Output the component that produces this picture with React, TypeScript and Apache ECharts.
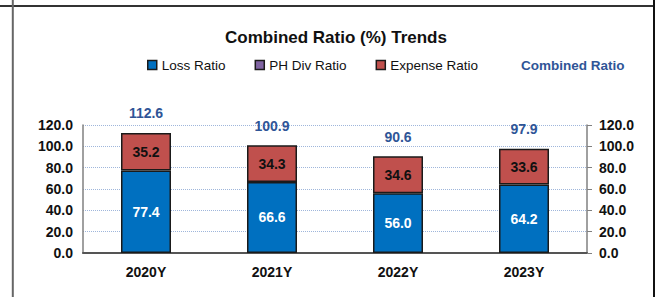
import React, { useEffect, useRef } from "react";
import * as echarts from "echarts";

const categories = ["2020Y", "2021Y", "2022Y", "2023Y"];
const lossRatio = [77.4, 66.6, 56.0, 64.2];
const phDivRatio = [0, 0, 0, 0];
const expenseRatio = [35.2, 34.3, 34.6, 33.6];
const combinedRatio = [112.6, 100.9, 90.6, 97.9];

const FONT = 'Arial, "Liberation Sans", sans-serif';

export default function App() {
  const ref = useRef<HTMLDivElement>(null);
  useEffect(() => {
    if (!ref.current) return;
    const chart = echarts.init(ref.current, undefined, { renderer: "svg" });
    const yAxisCommon = {
      type: "value" as const,
      min: 0,
      max: 120,
      interval: 20,
      axisLabel: {
        formatter: (v: number) => v.toFixed(1),
        fontFamily: FONT,
        fontSize: 14,
        fontWeight: "bold" as const,
        color: "#111",
      },
    };
    const iconBorder = { borderColor: "#1a1a1a", borderWidth: 1.5 };
    chart.setOption({
      animation: false,
      backgroundColor: "#fff",
      textStyle: { fontFamily: FONT },
      title: {
        text: "Combined Ratio (%) Trends",
        left: 225,
        top: 29,
        padding: 0,
        textStyle: { fontFamily: FONT, fontSize: 17, fontWeight: "bold", color: "#111" },
      },
      legend: {
        left: 147,
        top: 58,
        padding: 0,
        itemWidth: 9,
        itemHeight: 9,
        itemGap: 29,
        textStyle: { fontFamily: FONT, fontSize: 13.5, color: "#111" },
        data: [
          { name: "Loss Ratio", icon: "rect", itemStyle: iconBorder },
          { name: "PH Div Ratio", icon: "rect", itemStyle: iconBorder },
          { name: "Expense Ratio", icon: "rect", itemStyle: iconBorder },
          {
            name: "Combined Ratio",
            icon: "none",
            textStyle: { color: "#2F5597", fontWeight: "bold", fontSize: 13.5 },
          },
        ],
      },
      grid: { left: 83, right: 73, top: 125, bottom: 44 },
      xAxis: {
        type: "category",
        data: categories,
        axisTick: { show: false },
        axisLine: { lineStyle: { color: "#555", width: 2 } },
        axisLabel: {
          margin: 12,
          fontFamily: FONT,
          fontSize: 14,
          fontWeight: "bold",
          color: "#111",
        },
      },
      yAxis: [
        {
          ...yAxisCommon,
          position: "left",
          axisLine: { show: true, lineStyle: { color: "#808080", width: 1.5 } },
          axisTick: { show: false },
          splitLine: { show: true, lineStyle: { color: "#9FB6DB", type: "dotted", width: 1 } },
          axisLabel: { ...yAxisCommon.axisLabel, margin: 10 },
        },
        {
          ...yAxisCommon,
          position: "right",
          axisLine: { show: true, lineStyle: { color: "#808080", width: 1.5 } },
          axisTick: { show: true, length: 5, lineStyle: { color: "#808080" } },
          splitLine: { show: false },
          axisLabel: { ...yAxisCommon.axisLabel, margin: 12 },
        },
      ],
      series: [
        {
          name: "Loss Ratio",
          type: "bar",
          stack: "total",
          barWidth: 50,
          data: lossRatio,
          itemStyle: { color: "#0070C0", borderColor: "#1a1a1a", borderWidth: 1.5 },
          label: {
            show: true,
            position: "inside",
            formatter: (p: any) => Number(p.value).toFixed(1),
            color: "#fff",
            fontFamily: FONT,
            fontSize: 14,
            fontWeight: "bold",
          },
        },
        {
          name: "PH Div Ratio",
          type: "bar",
          stack: "total",
          barWidth: 50,
          data: phDivRatio,
          itemStyle: { color: "#8064A2", borderColor: "#1a1a1a", borderWidth: 0 },
        },
        {
          name: "Expense Ratio",
          type: "bar",
          stack: "total",
          barWidth: 50,
          data: expenseRatio,
          itemStyle: { color: "#C0504D", borderColor: "#1a1a1a", borderWidth: 1.5 },
          label: {
            show: true,
            position: "inside",
            formatter: (p: any) => Number(p.value).toFixed(1),
            color: "#111",
            fontFamily: FONT,
            fontSize: 14,
            fontWeight: "bold",
          },
        },
        {
          name: "Combined Ratio",
          type: "scatter",
          data: combinedRatio,
          symbolSize: 1,
          itemStyle: { color: "rgba(0,0,0,0)", opacity: 1 },
          label: {
            show: true,
            position: "top",
            distance: 12,
            opacity: 1,
            formatter: (p: any) => Number(p.value).toFixed(1),
            color: "#2F5597",
            fontFamily: FONT,
            fontSize: 14,
            fontWeight: "bold",
          },
          z: 5,
        },
      ],
      graphic: [
        { type: "line", shape: { x1: 0, y1: 6, x2: 655, y2: 6 }, style: { stroke: "#333", lineWidth: 2 } },
        { type: "line", shape: { x1: 12.8, y1: 0, x2: 12.8, y2: 297 }, style: { stroke: "#666", lineWidth: 2 } },
        { type: "line", shape: { x1: 654, y1: 0, x2: 654, y2: 297 }, style: { stroke: "#111", lineWidth: 2 } },
      ],
    });
    return () => chart.dispose();
  }, []);
  return (
    <div
      ref={ref}
      style={{ position: "fixed", left: 0, top: 0, width: 660, height: 297 }}
    />
  );
}
